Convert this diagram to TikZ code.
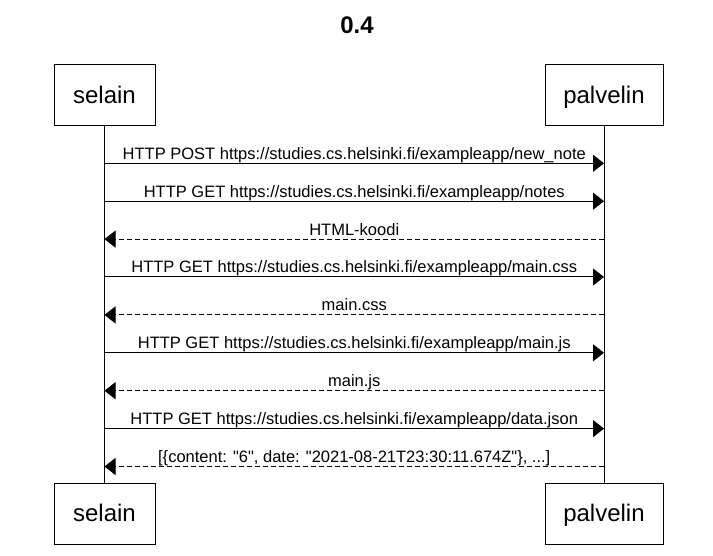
\documentclass[tikz,border=0pt]{standalone}
\usepackage{fontspec}
\setmainfont{Liberation Sans}[Ligatures=TeXOff]
\usetikzlibrary{arrows.meta}
\begin{document}
\begin{tikzpicture}[x=1pt,y=-1pt,
  actor/.style={draw, line width=1pt, inner sep=0pt, minimum height=61pt,
    font=\fontsize{24}{28}\selectfont, text height=17.3pt, text depth=1.7pt},
  lifeline/.style={line width=1pt},
  msg/.style={line width=1pt, -{Triangle[length=11pt,width=17pt]}},
  reply/.style={msg, dash pattern=on 5pt off 3pt},
  lbl/.style={font=\fontsize{16.5}{19}\selectfont, anchor=base, yshift=4pt, inner sep=0pt}]

\fill[white] (0,0) rectangle (713,556);
\useasboundingbox (0,0) rectangle (713,556);

% title
\node[font=\bfseries\fontsize{24}{28}\selectfont] (title) at (357,25) {0.4};

% participants
\node[actor, minimum width=101pt] (selainTop) at (104.5,95.5) {selain};
\node[actor, minimum width=118pt] (palvelinTop) at (604,95.5) {palvelin};
\node[actor, minimum width=101pt] (selainBot) at (104.5,514) {selain};
\node[actor, minimum width=118pt] (palvelinBot) at (604,514) {palvelin};

% lifelines
\draw[lifeline] (selainTop.south) -- (selainBot.north);
\draw[lifeline] (palvelinTop.south) -- (palvelinBot.north);

% message end points on the lifelines
\foreach \i/\y in {1/163.3,2/201.2,3/239.1,4/277,5/314.9,6/352.8,7/390.7,8/428.6,9/466.5}{
  \coordinate (s\i) at (104.5,\y);
  \coordinate (p\i) at (604,\y);
}

% messages
\draw[msg] (s1) -- (p1) node[lbl, midway] {HTTP POST https://studies.cs.helsinki.fi/exampleapp/new\_note};
\draw[msg] (s2) -- (p2) node[lbl, midway] {HTTP GET https://studies.cs.helsinki.fi/exampleapp/notes};
\draw[reply] (p3) -- (s3) node[lbl, midway] {HTML-koodi};
\draw[msg] (s4) -- (p4) node[lbl, midway] {HTTP GET https://studies.cs.helsinki.fi/exampleapp/main.css};
\draw[reply] (p5) -- (s5) node[lbl, midway] {main.css};
\draw[msg] (s6) -- (p6) node[lbl, midway] {HTTP GET https://studies.cs.helsinki.fi/exampleapp/main.js};
\draw[reply] (p7) -- (s7) node[lbl, midway] {main.js};
\draw[msg] (s8) -- (p8) node[lbl, midway] {HTTP GET https://studies.cs.helsinki.fi/exampleapp/data.json};
\draw[reply] (p9) -- (s9) node[lbl, midway] {[\{content: "6", date: "2021-08-21T23:30:11.674Z"\}, ...]};
\end{tikzpicture}
\end{document}
